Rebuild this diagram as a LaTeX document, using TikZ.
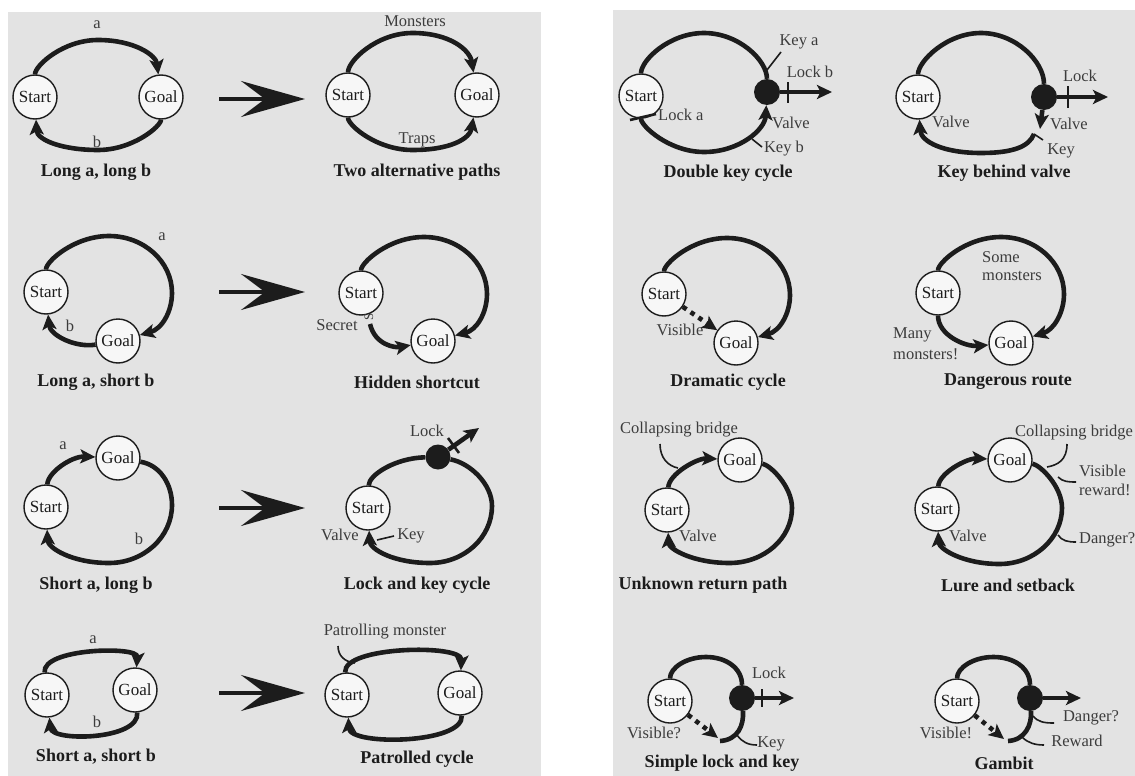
\documentclass[tikz,border=0pt]{standalone}
\usepackage{fontspec}
\setmainfont{Liberation Serif}
\usetikzlibrary{arrows.meta}
\definecolor{panel}{RGB}{227,227,227}
\definecolor{ink}{RGB}{28,28,28}
\definecolor{txt}{RGB}{60,60,60}
\begin{document}
\begin{tikzpicture}[x=1pt,y=-1pt,
  place/.style={circle,draw=ink,line width=1.4pt,fill=white!97!black,minimum size=44pt,inner sep=0pt,font=\fontsize{17}{18}\selectfont,text=ink},
  lockpt/.style={circle,fill=ink,minimum size=26pt,inner sep=0pt},
  road/.style={draw=ink,line width=4.6pt},
  arrowend/.style={-{Stealth[length=15pt,width=14pt,inset=3.5pt]}},
  dotline/.style={dash pattern=on 4.5pt off 5pt},
  tickmark/.style={draw=ink,line width=2.6pt},
  ptr/.style={draw=ink,line width=1.6pt},
  lbl/.style={font=\fontsize{16.5}{18}\selectfont,text=txt,inner sep=0pt},
  capt/.style={font=\bfseries\fontsize{18}{20}\selectfont,text=ink,inner sep=0pt},
  bigarrow/.style={draw=ink,line width=3.6pt,-{Stealth[length=64pt,width=36pt,inset=24pt]}},
]
\useasboundingbox (0,0) rectangle (1135,776);
\fill[white] (0,0) rectangle (1135,776);
\fill[panel] (8,12) rectangle (541,776);
\fill[panel] (613,10) rectangle (1135,776);

% transformation arrows
\coordinate (t1a) at (219,99);  \coordinate (t1b) at (305,99);
\coordinate (t2a) at (219,292); \coordinate (t2b) at (305,292);
\coordinate (t3a) at (219,508); \coordinate (t3b) at (305,508);
\coordinate (t4a) at (219,693); \coordinate (t4b) at (305,693);
\draw[bigarrow] (t1a) -- (t1b);
\draw[bigarrow] (t2a) -- (t2b);
\draw[bigarrow] (t3a) -- (t3b);
\draw[bigarrow] (t4a) -- (t4b);

% ---------- Long a, long b
\node[place] (S1) at (35,97) {Start};
\node[place] (G1) at (161,97) {Goal};
\draw[road,arrowend] (S1) .. controls (35,65.5) and (63.2,40) .. (98,40)
  .. controls (134,40) and (156,55) .. (G1);
\draw[road,arrowend] (G1) .. controls (161,126.3) and (132.8,150) .. (98,150)
  .. controls (62,150) and (37,140) .. (S1);
\node[lbl] (a1) at (97,25) {a};
\node[lbl] (b1) at (97,142) {b};
\node[capt] (c1) at (96,172) {Long a, long b};

% ---------- Two alternative paths
\node[place] (S2) at (348,95) {Start};
\node[place] (G2) at (477,95) {Goal};
\draw[road,arrowend] (S2) .. controls (348,60.8) and (376.9,33) .. (412.5,33)
  .. controls (450,33) and (470,50) .. (G2);
\draw[road,arrowend] (S2) .. controls (348,125.4) and (376.9,150) .. (412.5,150)
  .. controls (450,150) and (470,139) .. (G2);
\node[lbl] (m2) at (415,21) {Monsters};
\node[lbl] (t2) at (417,140) {Traps};
\node[capt] (c2) at (417,172) {Two alternative paths};

% ---------- Double key cycle
\node[place] (S3) at (641,96) {Start};
\node[lockpt] (L3) at (767,92) {};
\draw[road] (S3) .. controls (641,60.3) and (669.2,33) .. (704,33)
  .. controls (738.8,33) and (767,60.3) .. (L3);
\draw[road,arrowend] (S3) .. controls (641,126) and (669.2,152) .. (704,152)
  .. controls (738.8,152) and (765,130) .. (L3);
\draw[road,arrowend] (L3) -- (832,92);
\coordinate (lb3a) at (788,82); \coordinate (lb3b) at (788,103);
\draw[tickmark] (lb3a) -- (lb3b);
\coordinate (la3a) at (630,120); \coordinate (la3b) at (656,114);
\draw[tickmark] (la3a) -- (la3b);
\coordinate (ka3a) at (767,70); \coordinate (ka3b) at (781,52);
\draw[ptr] (ka3a) -- (ka3b);
\coordinate (kb3a) at (752,139); \coordinate (kb3b) at (762,147);
\draw[ptr] (kb3a) -- (kb3b);
\node[lbl] (ka3) at (799,42) {Key a};
\node[lbl] (lb3) at (810,72) {Lock b};
\node[lbl,anchor=west] (la3) at (658,115) {Lock a};
\node[lbl] (v3) at (791,123) {Valve};
\node[lbl] (kb3) at (784,149) {Key b};
\node[capt] (c3) at (728,173) {Double key cycle};

% ---------- Key behind valve
\node[place] (S4) at (918,97) {Start};
\node[lockpt] (L4) at (1044,97) {};
\coordinate (v4) at (1040,129);
\coordinate (k4) at (1034,134);
\draw[road] (S4) .. controls (918,61.7) and (946.2,33) .. (981,33)
  .. controls (1015.8,33) and (1044,61.7) .. (L4);
\draw[road,arrowend] (L4) -- (1108,97);
\draw[road,arrowend] (L4) -- (v4);
\draw[road,arrowend] (k4) .. controls (1029,147) and (1012,153) .. (981,153)
  .. controls (944,153) and (921,142) .. (S4);
\coordinate (lk4a) at (1068,86); \coordinate (lk4b) at (1068,108);
\draw[tickmark] (lk4a) -- (lk4b);
\coordinate (kp4) at (1043,140);
\draw[ptr] (k4) -- (kp4);
\node[lbl] (lk4) at (1080,76) {Lock};
\node[lbl] (vv4) at (1069,124) {Valve};
\node[lbl] (sv4) at (951,122) {Valve};
\node[lbl] (kk4) at (1061,151) {Key};
\node[capt] (c4) at (1004,173) {Key behind valve};

% ---------- Long a, short b
\node[place] (S5) at (46,292) {Start};
\node[place] (G5) at (118,341) {Goal};
\draw[road,arrowend] (S5) .. controls (46,261.5) and (74.2,236) .. (109,236)
  .. controls (143.8,236) and (172,261.5) .. (172,293)
  .. controls (172,311.6) and (161.9,329) .. (G5);
\draw[road,arrowend] (G5) .. controls (75,348) and (50,335) .. (S5);
\node[lbl] (a5) at (162,237) {a};
\node[lbl] (b5) at (70,326) {b};
\node[capt] (c5) at (96,382) {Long a, short b};

% ---------- Hidden shortcut
\node[place] (S6) at (361,293) {Start};
\node[place] (G6) at (433,341) {Goal};
\draw[road,arrowend] (S6) .. controls (361,262.5) and (389.2,237) .. (424,237)
  .. controls (458.8,237) and (487,262.5) .. (487,294)
  .. controls (487,312.6) and (476.9,330) .. (G6);
\coordinate (sc6) at (370,324);
\draw[road,arrowend] (sc6) .. controls (375,345) and (395,348) .. (G6);
\node[lbl,rotate=90,font=\fontsize{13}{14}\selectfont] (sq6) at (369,317) {S};
\node[lbl] (se6) at (337,325) {Secret};
\node[capt] (c6) at (417,382) {Hidden shortcut};

% ---------- Dramatic cycle
\node[place] (S7) at (664,294) {Start};
\node[place] (G7) at (736,343) {Goal};
\draw[road,arrowend] (S7) .. controls (664,263.5) and (692.2,238) .. (727,238)
  .. controls (761.8,238) and (790,263.5) .. (790,295)
  .. controls (790,313.6) and (779.9,331) .. (G7);
\draw[road,dotline,arrowend] (S7) -- (G7);
\node[lbl] (vi7) at (680,330) {Visible};
\node[capt] (c7) at (728,382) {Dramatic cycle};

% ---------- Dangerous route
\node[place] (S8) at (938,293) {Start};
\node[place] (G8) at (1011,343) {Goal};
\draw[road,arrowend] (S8) .. controls (938,262.5) and (966.2,237) .. (1001,237)
  .. controls (1035.8,237) and (1064,262.5) .. (1064,294)
  .. controls (1064,312.6) and (1053.9,330) .. (G8);
\draw[road,arrowend] (S8) .. controls (938,335) and (965,347) .. (G8);
\node[lbl,anchor=west] (sm8a) at (982,257) {Some};
\node[lbl,anchor=west] (sm8b) at (982,276) {monsters};
\node[lbl,anchor=west] (mm8a) at (893,335) {Many};
\node[lbl,anchor=west] (mm8b) at (893,354) {monsters!};
\node[capt] (c8) at (1008,382) {Dangerous route};

% ---------- Short a, long b
\node[place] (S9) at (46,507) {Start};
\node[place] (G9) at (118,458) {Goal};
\draw[road,arrowend] (S9) .. controls (48,472) and (72,456) .. (G9);
\draw[road,arrowend] (G9) .. controls (160,465) and (172,484) .. (172,505)
  .. controls (172,537) and (143.8,563) .. (109,563)
  .. controls (72,563) and (48,548) .. (S9);
\node[lbl] (a9) at (63,446) {a};
\node[lbl] (b9) at (139,539) {b};
\node[capt] (c9) at (96,585) {Short a, long b};

% ---------- Lock and key cycle
\node[place] (S10) at (368,508) {Start};
\node[lockpt,minimum size=25pt] (L10) at (438,457) {};
\coordinate (o10) at (479,428);
\draw[road] (S10) .. controls (369,475) and (395,458) .. (L10);
\draw[road,arrowend] (L10) .. controls (470,463) and (492,484) .. (492,506)
  .. controls (492,537.5) and (464.2,563) .. (430,563)
  .. controls (393,563) and (370,549) .. (S10);
\draw[road,arrowend] (L10) -- (o10);
\coordinate (lk10a) at (448,438); \coordinate (lk10b) at (459,453);
\draw[tickmark] (lk10a) -- (lk10b);
\coordinate (kp10a) at (377,540); \coordinate (kp10b) at (394,536);
\draw[ptr] (kp10a) -- (kp10b);
\node[lbl] (lk10) at (427,431) {Lock};
\node[lbl] (v10) at (340,535) {Valve};
\node[lbl] (k10) at (411,536) {Key};
\node[capt] (c10) at (417,585) {Lock and key cycle};

% ---------- Unknown return path
\node[place] (S11) at (667,510) {Start};
\node[place] (G11) at (740,460) {Goal};
\draw[road,arrowend] (S11) .. controls (669,474) and (697,458) .. (G11);
\draw[road,arrowend] (G11) .. controls (770,465) and (792,486) .. (792,508)
  .. controls (792,538.4) and (764,563) .. (729.5,563)
  .. controls (693,563) and (669,549) .. (S11);
\coordinate (cb11a) at (660,444); \coordinate (cb11b) at (678,468);
\draw[ptr] (cb11a) .. controls (660,458) and (668,466) .. (cb11b);
\node[lbl] (cb11) at (679,430) {Collapsing bridge};
\node[lbl] (v11) at (698,536) {Valve};
\node[capt] (c11) at (703,585) {Unknown return path};

% ---------- Lure and setback
\node[place] (S12) at (937,509) {Start};
\node[place] (G12) at (1010,460) {Goal};
\draw[road,arrowend] (S12) .. controls (939,473) and (967,458) .. (G12);
\draw[road,arrowend] (G12) .. controls (1040,465) and (1062,486) .. (1062,508)
  .. controls (1062,538.4) and (1034,564) .. (999.5,564)
  .. controls (963,564) and (939,549) .. (S12);
\coordinate (cb12a) at (1067,444); \coordinate (cb12b) at (1047,467);
\draw[ptr] (cb12a) .. controls (1067,460) and (1058,465) .. (cb12b);
\coordinate (vr12a) at (1058,477); \coordinate (vr12b) at (1076,482);
\draw[ptr] (vr12a) .. controls (1063,482) and (1069,482) .. (vr12b);
\coordinate (dg12a) at (1058,535); \coordinate (dg12b) at (1076,542);
\draw[ptr] (dg12a) .. controls (1062,541) and (1068,542) .. (dg12b);
\node[lbl,anchor=west] (cb12) at (1015,433) {Collapsing bridge};
\node[lbl,anchor=west] (vr12) at (1079,471) {Visible};
\node[lbl,anchor=west] (rw12) at (1079,490) {reward!};
\node[lbl,anchor=west] (dg12) at (1079,540) {Danger?};
\node[lbl] (v12) at (968,536) {Valve};
\node[capt] (c12) at (1008,585) {Lure and setback};

% ---------- Short a, short b
\node[place] (S13) at (47,695) {Start};
\node[place] (G13) at (135,690) {Goal};
\draw[road,arrowend] (S13) .. controls (42,648) and (138,646) .. (G13);
\draw[road,arrowend] (G13) .. controls (140,740) and (52,742) .. (S13);
\node[lbl] (a13) at (93,640) {a};
\node[lbl] (b13) at (97,722) {b};
\node[capt] (c13) at (96,757) {Short a, short b};

% ---------- Patrolled cycle
\node[place] (S14) at (347,695) {Start};
\node[place] (G14) at (460,693) {Goal};
\draw[road,arrowend] (S14) .. controls (343,646) and (462,644) .. (G14);
\draw[road,arrowend] (G14) .. controls (464,744) and (350,746) .. (S14);
\coordinate (pm14a) at (338,646); \coordinate (pm14b) at (355,663);
\draw[ptr] (pm14a) .. controls (338,656) and (345,662) .. (pm14b);
\node[lbl] (pm14) at (385,632) {Patrolling monster};
\node[capt] (c14) at (417,759) {Patrolled cycle};

% ---------- Simple lock and key
\node[place] (S15) at (670,701) {Start};
\node[lockpt] (L15) at (742,698) {};
\draw[road] (S15) .. controls (670,668) and (686,657) .. (706,657)
  .. controls (726,657) and (742,668) .. (L15);
\draw[road,arrowend] (L15) -- (794,698);
\coordinate (k15) at (720,741);
\draw[road] (L15) .. controls (744,725) and (738,740) .. (k15);
\coordinate (lk15a) at (762,689); \coordinate (lk15b) at (762,707);
\draw[tickmark] (lk15a) -- (lk15b);
\coordinate (kp15a) at (737,735); \coordinate (kp15b) at (757,745);
\draw[ptr] (kp15a) .. controls (742,742) and (748,745) .. (kp15b);
\coordinate (vs15) at (718,738);
\draw[road,dotline,arrowend] (S15) -- (vs15);
\node[lbl] (lk15) at (769,673) {Lock};
\node[lbl] (k15l) at (771,744) {Key};
\node[lbl] (vs15l) at (654,733) {Visible?};
\node[capt] (c15) at (722,763) {Simple lock and key};

% ---------- Gambit
\node[place] (S16) at (957,701) {Start};
\node[lockpt] (L16) at (1030,698) {};
\draw[road] (S16) .. controls (957,668) and (973,657) .. (993.5,657)
  .. controls (1014,657) and (1030,668) .. (L16);
\draw[road,arrowend] (L16) -- (1081,698);
\coordinate (e16) at (1008,741);
\draw[road] (L16) .. controls (1032,725) and (1025,740) .. (e16);
\coordinate (dg16a) at (1033,716); \coordinate (dg16b) at (1054,723);
\draw[ptr] (dg16a) .. controls (1038,722) and (1044,723) .. (dg16b);
\coordinate (rw16a) at (1022,737); \coordinate (rw16b) at (1044,745);
\draw[ptr] (rw16a) .. controls (1028,743) and (1035,745) .. (rw16b);
\coordinate (vs16) at (1004,739);
\draw[road,dotline,arrowend] (S16) -- (vs16);
\node[lbl] (dg16) at (1091,718) {Danger?};
\node[lbl] (rw16) at (1077,741) {Reward};
\node[lbl] (vs16l) at (946,733) {Visible!};
\node[capt] (c16) at (1004,763) {Gambit};
\end{tikzpicture}
\end{document}
